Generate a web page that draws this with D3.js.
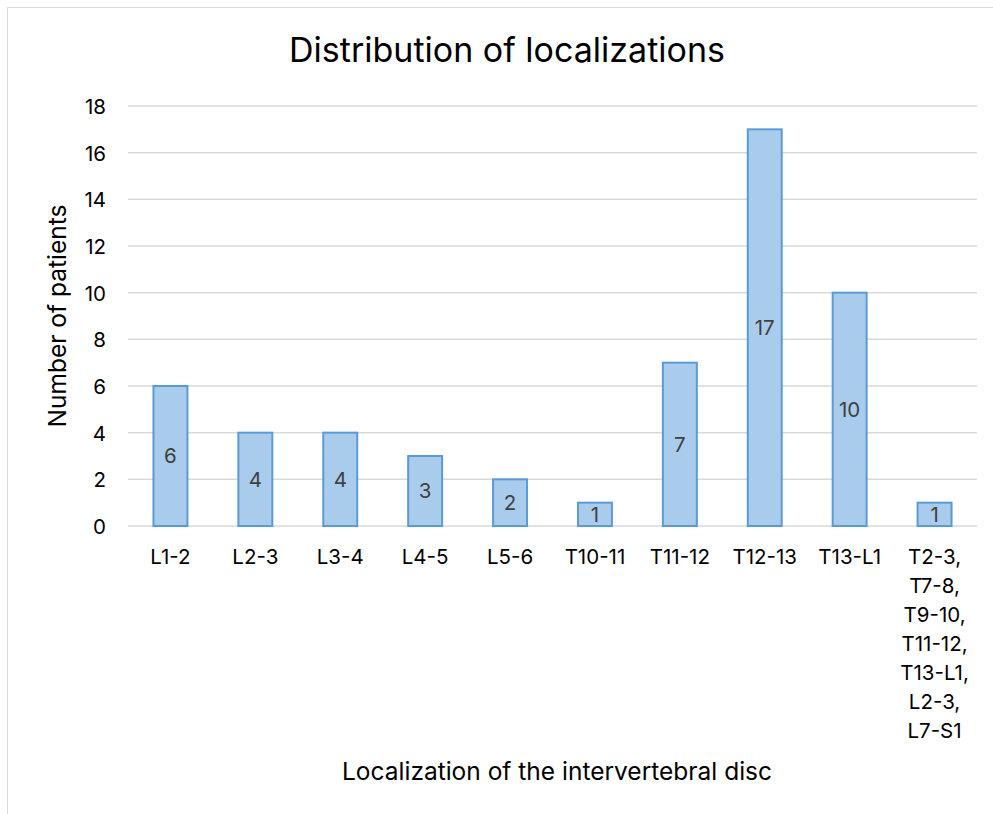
<!DOCTYPE html>
<html>
<head>
<meta charset="utf-8">
<script src="https://cdn.jsdelivr.net/npm/d3@7"></script>
<style>
  html, body { margin: 0; padding: 0; background: #fff; }
  svg { display: block; }
</style>
</head>
<body>
<script>
// Patient counts per intervertebral disc localization
const categories = [
  ["L1-2"], ["L2-3"], ["L3-4"], ["L4-5"], ["L5-6"], ["T10-11"], ["T11-12"], ["T12-13"], ["T13-L1"],
  ["T2-3,", "T7-8,", "T9-10,", "T11-12,", "T13-L1,", "L2-3,", "L7-S1"]
];
const patients = [6, 4, 4, 3, 2, 1, 7, 17, 10, 1];
const yTicks = [0, 2, 4, 6, 8, 10, 12, 14, 16, 18];

const W = 993, H = 814;
const margin = { left: 128, right: 16, top: 106, bottom: 288 };
const font = "Inter, 'Liberation Sans', Arial, sans-serif";

const svg = d3.select("body").append("svg").attr("width", W).attr("height", H);
svg.append("rect").attr("width", W).attr("height", H).attr("fill", "#fff");
// chart frame
svg.append("rect").attr("x", 7.5).attr("y", 7.5).attr("width", W - 6).attr("height", H)
  .attr("fill", "none").attr("stroke", "#d9d9d9").attr("stroke-width", 1);

const x = d3.scaleBand()
  .domain(d3.range(categories.length))
  .range([margin.left, W - margin.right])
  .paddingInner(0.6).paddingOuter(0.3);
const y = d3.scaleLinear().domain([0, 18]).range([H - margin.bottom, margin.top]);

// gridlines
svg.append("g").selectAll("line").data(yTicks).join("line")
  .attr("x1", margin.left).attr("x2", W - margin.right)
  .attr("y1", d => y(d)).attr("y2", d => y(d))
  .attr("stroke", "#d9d9d9").attr("stroke-width", 1.5);

// y tick labels
const yAxis = svg.append("g").attr("transform", `translate(${margin.left - 22},0)`)
  .call(d3.axisLeft(y).tickValues(yTicks).tickSize(0).tickPadding(0));
yAxis.select(".domain").remove();
yAxis.selectAll("text").attr("font-family", font).attr("font-size", 20.5).attr("fill", "#000")
  .attr("dy", "0.36em");

// bars
svg.append("g").selectAll("rect").data(patients).join("rect")
  .attr("x", (d, i) => x(i)).attr("width", x.bandwidth())
  .attr("y", d => y(d)).attr("height", d => y(0) - y(d))
  .attr("fill", "#a9cbec").attr("stroke", "#5b9bd5").attr("stroke-width", 2);

// value labels centered in bars
svg.append("g").selectAll("text").data(patients).join("text")
  .attr("x", (d, i) => x(i) + x.bandwidth() / 2)
  .attr("y", d => (y(d) + y(0)) / 2)
  .attr("dy", "0.36em").attr("text-anchor", "middle")
  .attr("font-family", font).attr("font-size", 20.5).attr("fill", "#404040")
  .text(d => d);

// category labels
const cat = svg.append("g").selectAll("text").data(categories).join("text")
  .attr("x", (d, i) => x(i) + x.bandwidth() / 2)
  .attr("y", y(0) + 38)
  .attr("text-anchor", "middle")
  .attr("font-family", font).attr("font-size", 20.5).attr("fill", "#000");
cat.selectAll("tspan").data(d => d).join("tspan")
  .attr("x", function () { return this.parentNode.getAttribute("x"); })
  .attr("dy", (d, i) => i === 0 ? 0 : 29)
  .text(d => d);

// title
svg.append("text").attr("x", 507).attr("y", 62).attr("text-anchor", "middle")
  .attr("font-family", font).attr("font-size", 34).attr("fill", "#000")
  .text("Distribution of localizations");

// axis titles
svg.append("text").attr("transform", `translate(66,316) rotate(-90)`)
  .attr("text-anchor", "middle")
  .attr("font-family", font).attr("font-size", 24.5).attr("fill", "#000")
  .text("Number of patients");
svg.append("text").attr("x", 557).attr("y", 780).attr("text-anchor", "middle")
  .attr("font-family", font).attr("font-size", 24.5).attr("fill", "#000")
  .text("Localization of the intervertebral disc");
</script>
</body>
</html>
